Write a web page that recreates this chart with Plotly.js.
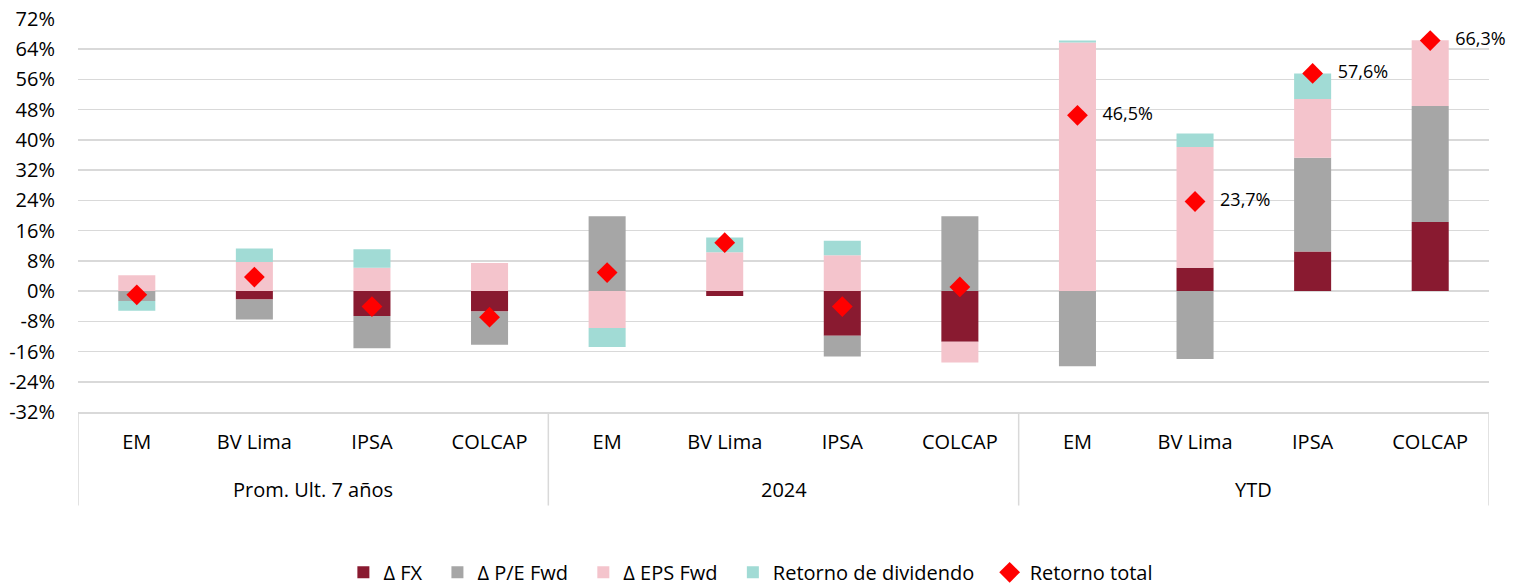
<!DOCTYPE html>
<html>
<head>
<meta charset="utf-8">
<script src="https://cdn.plot.ly/plotly-3.0.1.min.js"></script>
<style>
  html, body { margin: 0; padding: 0; background: #ffffff; }
  #chart { width: 1520px; height: 587px; }
</style>
</head>
<body>
<div id="chart"></div>
<script>
// ---- Data (values in %) ----
const groups = ["Prom. Ult. 7 años","Prom. Ult. 7 años","Prom. Ult. 7 años","Prom. Ult. 7 años",
                "2024","2024","2024","2024",
                "YTD","YTD","YTD","YTD"];
const indices = ["EM","BV Lima","IPSA","COLCAP","EM","BV Lima","IPSA","COLCAP","EM","BV Lima","IPSA","COLCAP"];

const deltaFX   = [0.0, -2.2, -6.6, -5.4,   0.0, -1.3, -11.8, -13.4,   0.0,   6.2, 10.5, 18.3];
const deltaPE   = [-2.6, -5.3, -8.5, -8.8,  19.8,  0.0,  -5.5,  19.8, -19.9, -18.0, 24.8, 30.7];
const deltaEPS  = [4.2,  7.7,  6.2,  7.4,   -9.8, 10.3,   9.5,  -5.5,  65.8,  31.9, 15.5, 17.4];
const dividend  = [-2.6, 3.6,  4.9,  0.0,   -5.0,  3.9,   3.8,   0.0,   0.5,   3.6,  6.8,  0.0];
const totalRet  = [-1.0, 3.7, -4.1, -6.9,    4.9, 12.8,  -4.1,   1.1,  46.5,  23.7, 57.6, 66.3];
const totalLabels = ["","","","","","","","","46,5%","23,7%","57,6%","66,3%"];

const yTicks = [-32,-24,-16,-8,0,8,16,24,32,40,48,56,64,72];
const yTickText = yTicks.map(v => v + "%");

const seriesNames = ["Δ FX","Δ P/E Fwd","Δ EPS Fwd","Retorno de dividendo","Retorno total"];
const colors = ["#891A30","#A6A6A6","#F4C4CC","#A1DBD5","#FF0000"];

const FONT = "'Open Sans', 'DejaVu Sans', sans-serif";
const GRID = "#D9D9D9";
const PAD = "\u00a0\u00a0";

// unique category keys (group + index), shown with the index name only
const keys = groups.map((g, i) => g + " | " + indices[i]);

function barTrace(vals, i) {
  return {
    type: "bar", x: keys, y: vals, name: seriesNames[i] + PAD,
    marker: { color: colors[i], line: { width: 0 } },
    hoverinfo: "skip"
  };
}

const traces = [
  barTrace(deltaFX, 0),
  barTrace(deltaPE, 1),
  barTrace(deltaEPS, 2),
  barTrace(dividend, 3),
  {
    type: "scatter", mode: "markers+text", x: keys, y: totalRet, name: seriesNames[4],
    marker: { symbol: "diamond", color: colors[4], size: 16, line: { width: 0 } },
    text: totalLabels.map(t => t ? "\u00a0\u00a0\u00a0" + t : ""),
    textposition: "middle right",
    textfont: { family: FONT, size: 18, color: "#000000" },
    cliponaxis: false,
    hoverinfo: "skip"
  }
];

// group label annotations and divider shapes from the groups array
const uniqueGroups = [...new Set(groups)];
const annotations = uniqueGroups.map(g => {
  const idx = groups.map((v, i) => v === g ? i : -1).filter(i => i >= 0);
  const mid = (idx[0] + idx[idx.length - 1]) / 2;
  return {
    xref: "x", yref: "paper", x: mid, y: -0.197,
    text: g, showarrow: false, xanchor: "center", yanchor: "middle",
    font: { family: FONT, size: 20, color: "#000000" }
  };
});
const boundaries = [-0.5];
uniqueGroups.forEach(g => {
  const last = groups.lastIndexOf(g);
  boundaries.push(last + 0.5);
});
const shapes = boundaries.map(b => ({
  type: "line", xref: "x", yref: "paper", x0: b, x1: b, y0: 0, y1: -0.238,
  line: { color: GRID, width: 1.5 }
}));

const layout = {
  width: 1520, height: 587,
  margin: { l: 78, r: 31, t: 19, b: 175 },
  paper_bgcolor: "#ffffff", plot_bgcolor: "#ffffff",
  barmode: "relative",
  bargap: 0.685,
  font: { family: FONT, size: 20, color: "#000000" },
  showlegend: true,
  legend: {
    orientation: "h",
    xref: "container", yref: "container",
    x: 0.494, y: 0.025, xanchor: "center", yanchor: "middle",
    font: { family: FONT, size: 20, color: "#000000" },
    itemwidth: 30,
    traceorder: "normal"
  },
  xaxis: {
    type: "category",
    categoryorder: "array", categoryarray: keys,
    tickvals: keys, ticktext: indices,
    range: [-0.5, keys.length - 0.5],
    showgrid: false,
    showline: true, linecolor: GRID, linewidth: 1.5,
    ticks: "", ticklabelstandoff: 11,
    tickfont: { family: FONT, size: 20, color: "#000000" },
    fixedrange: true
  },
  yaxis: {
    range: [-32, 72],
    tickvals: yTicks, ticktext: yTickText,
    showgrid: true, gridcolor: GRID, gridwidth: 1.5,
    zeroline: true, zerolinecolor: GRID, zerolinewidth: 1.5,
    showline: false,
    ticks: "", ticklabelstandoff: 22,
    tickfont: { family: FONT, size: 20, color: "#000000" },
    fixedrange: true
  },
  annotations: annotations,
  shapes: shapes
};

Plotly.newPlot("chart", traces, layout, { displayModeBar: false, staticPlot: true });
</script>
</body>
</html>
